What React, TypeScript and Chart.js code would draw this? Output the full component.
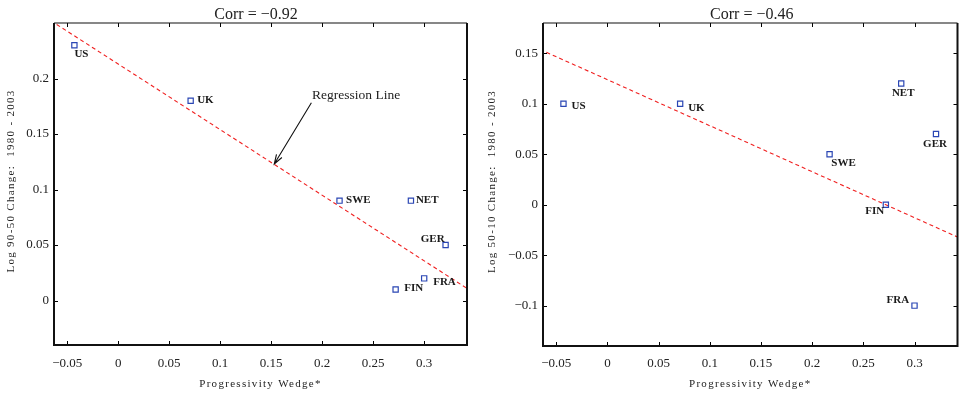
import React, { useEffect, useRef } from 'react';
import { Chart, registerables } from 'chart.js';

Chart.register(...registerables);

// ---------- data ----------
const COUNTRIES = ['US', 'UK', 'SWE', 'NET', 'GER', 'FRA', 'FIN'];
const WEDGE = [-0.043, 0.071, 0.217, 0.287, 0.321, 0.3, 0.272];
const CHANGE_90_50 = [0.23, 0.18, 0.09, 0.09, 0.05, 0.02, 0.01];
const CHANGE_50_10 = [0.1, 0.1, 0.05, 0.12, 0.07, -0.1, 0.0];

// regression lines, end points
const REG_X_90_50 = [-0.0604, 0.342];
const REG_Y_90_50 = [0.2487, 0.011];
const REG_X_50_10 = [-0.0597, 0.342];
const REG_Y_50_10 = [0.151, -0.032];

const X_TICKS = [-0.05, 0, 0.05, 0.1, 0.15, 0.2, 0.25, 0.3];
const X_TICK_LABELS = ['\u22120.05', '0', '0.05', '0.1', '0.15', '0.2', '0.25', '0.3'];
const Y_TICKS_90_50 = [0, 0.05, 0.1, 0.15, 0.2];
const Y_TICK_LABELS_90_50 = ['0', '0.05', '0.1', '0.15', '0.2'];
const Y_TICKS_50_10 = [-0.1, -0.05, 0, 0.05, 0.1, 0.15];
const Y_TICK_LABELS_50_10 = ['\u22120.1', '\u22120.05', '0', '0.05', '0.1', '0.15'];

const X_RANGE = [-0.063, 0.342];
const Y_RANGE_90_50 = [-0.04, 0.25];
const Y_RANGE_50_10 = [-0.14, 0.18];

// annotation (data coordinates)
const ANNOT_TEXT = 'Regression Line';
const ANNOT_TEXT_AT = [0.1901, 0.182];
const ANNOT_ARROW_FROM = [0.1894, 0.1782];
const ANNOT_ARROW_TO = [0.153, 0.123];

// label placement (pixel offsets from marker: dx, dy, align)
const LABEL_POS_90_50: [number, number, CanvasTextAlign][] = [
  [0, 9, 'left'],
  [6.5, -1, 'left'],
  [6.5, 0, 'left'],
  [5, 0, 'left'],
  [-1, -6, 'right'],
  [9, 3.6, 'left'],
  [8.7, -1, 'left'],
];
const LABEL_POS_50_10: [number, number, CanvasTextAlign][] = [
  [8, 2, 'left'],
  [8, 4, 'left'],
  [1.7, 8.7, 'left'],
  [2, 10, 'center'],
  [-1, 10, 'center'],
  [-5.3, -5.7, 'right'],
  [-1.7, 6.7, 'right'],
];

const SERIF = "'Liberation Serif', 'Times New Roman', serif";

interface PanelSpec {
  width: number;
  yData: number[];
  regX: number[];
  regY: number[];
  yRange: number[];
  yTicks: number[];
  yTickLabels: string[];
  labelPos: [number, number, CanvasTextAlign][];
  title: string;
  titleDx: number;
  yTitle: string;
  yTitleX: number;
  padTop: number;
  padRight: number;
  yAxisWidth: number;
  xAxisHeight: number;
  xLabelPad: number;
  annotate: boolean;
}

function makeChart(canvas: HTMLCanvasElement, s: PanelSpec) {
  const decor = {
    id: 'decor',
    afterDraw(chart: any) {
      const ctx: CanvasRenderingContext2D = chart.ctx;
      const { left, right, top, bottom } = chart.chartArea;
      const xs = chart.scales.x;
      const ys = chart.scales.y;
      ctx.save();
      // inward ticks
      ctx.strokeStyle = '#000';
      ctx.lineWidth = 1;
      ctx.beginPath();
      for (const v of X_TICKS) {
        const px = Math.round(xs.getPixelForValue(v)) + 0.5;
        ctx.moveTo(px, bottom);
        ctx.lineTo(px, bottom - 4);
        ctx.moveTo(px, top);
        ctx.lineTo(px, top + 4);
      }
      for (const v of s.yTicks) {
        const py = Math.round(ys.getPixelForValue(v)) + 0.5;
        ctx.moveTo(left, py);
        ctx.lineTo(left + 4, py);
        ctx.moveTo(right, py);
        ctx.lineTo(right - 4, py);
      }
      ctx.stroke();
      // box
      ctx.strokeStyle = '#111';
      ctx.lineWidth = 2;
      ctx.beginPath();
      ctx.moveTo(left, top);
      ctx.lineTo(left, bottom);
      ctx.lineTo(right, bottom);
      ctx.lineTo(right, top);
      ctx.stroke();
      ctx.lineWidth = 1.2;
      ctx.beginPath();
      ctx.moveTo(left, top);
      ctx.lineTo(right, top);
      ctx.stroke();

      // point labels
      ctx.fillStyle = '#1a1a1a';
      ctx.font = `bold 11px ${SERIF}`;
      ctx.textBaseline = 'middle';
      for (let i = 0; i < COUNTRIES.length; i++) {
        const [dx, dy, align] = s.labelPos[i];
        ctx.textAlign = align;
        ctx.fillText(
          COUNTRIES[i],
          xs.getPixelForValue(WEDGE[i]) + dx,
          ys.getPixelForValue(s.yData[i]) + dy
        );
      }

      // title
      ctx.fillStyle = '#222';
      ctx.font = `16px ${SERIF}`;
      ctx.textAlign = 'center';
      ctx.textBaseline = 'alphabetic';
      ctx.fillText(s.title, (left + right) / 2 + s.titleDx, 18.5);

      // axis titles
      ctx.font = `11px ${SERIF}`;
      (ctx as any).letterSpacing = '1.3px';
      ctx.fillText('Progressivity Wedge*', (left + right) / 2, 387);
      ctx.save();
      ctx.translate(s.yTitleX, (top + bottom) / 2 - 3);
      ctx.rotate(-Math.PI / 2);
      ctx.fillText(s.yTitle, 0, 0);
      ctx.restore();
      (ctx as any).letterSpacing = '0px';

      if (s.annotate) {
        ctx.font = `13.5px ${SERIF}`;
        ctx.textAlign = 'left';
        ctx.fillStyle = '#222';
        ctx.fillText(
          ANNOT_TEXT,
          xs.getPixelForValue(ANNOT_TEXT_AT[0]),
          ys.getPixelForValue(ANNOT_TEXT_AT[1])
        );
        const x0 = xs.getPixelForValue(ANNOT_ARROW_FROM[0]);
        const y0 = ys.getPixelForValue(ANNOT_ARROW_FROM[1]);
        const x1 = xs.getPixelForValue(ANNOT_ARROW_TO[0]);
        const y1 = ys.getPixelForValue(ANNOT_ARROW_TO[1]);
        ctx.strokeStyle = '#111';
        ctx.lineWidth = 1.1;
        ctx.beginPath();
        ctx.moveTo(x0, y0);
        ctx.lineTo(x1, y1);
        const ang = Math.atan2(y1 - y0, x1 - x0);
        const hl = 10;
        const ha = 0.32;
        ctx.moveTo(x1 - hl * Math.cos(ang - ha), y1 - hl * Math.sin(ang - ha));
        ctx.lineTo(x1, y1);
        ctx.lineTo(x1 - hl * Math.cos(ang + ha), y1 - hl * Math.sin(ang + ha));
        ctx.stroke();
      }
      ctx.restore();
    },
  };

  return new Chart(canvas, {
    type: 'scatter',
    data: {
      datasets: [
        {
          data: WEDGE.map((x, i) => ({ x, y: s.yData[i] })),
          pointStyle: 'rect',
          pointRadius: 3.7,
          pointBorderWidth: 1.2,
          pointBorderColor: '#2a46b4',
          pointBackgroundColor: 'rgba(255,255,255,0)',
          showLine: false,
        } as any,
        {
          data: s.regX.map((x, i) => ({ x, y: s.regY[i] })),
          showLine: true,
          pointRadius: 0,
          borderColor: '#f02020',
          borderWidth: 1.1,
          borderDash: [4, 3],
        } as any,
      ],
    },
    options: {
      animation: false,
      responsive: false,
      maintainAspectRatio: false,
      devicePixelRatio: 1,
      events: [],
      layout: {
        autoPadding: false,
        padding: { top: s.padTop, right: s.padRight, left: 0, bottom: 0 },
      },
      plugins: { legend: { display: false }, tooltip: { enabled: false }, title: { display: false } },
      scales: {
        x: {
          type: 'linear',
          min: X_RANGE[0],
          max: X_RANGE[1],
          grid: { display: false, drawTicks: false },
          border: { display: false },
          afterBuildTicks: (scale: any) => {
            scale.ticks = X_TICKS.map((v) => ({ value: v }));
          },
          afterFit: (scale: any) => {
            scale.height = s.xAxisHeight;
          },
          ticks: {
            autoSkip: false,
            maxRotation: 0,
            minRotation: 0,
            padding: s.xLabelPad,
            color: '#222',
            font: { family: SERIF, size: 13 },
            callback: (_v: any, i: number) => X_TICK_LABELS[i],
          },
        },
        y: {
          type: 'linear',
          min: s.yRange[0],
          max: s.yRange[1],
          grid: { display: false, drawTicks: false },
          border: { display: false },
          afterBuildTicks: (scale: any) => {
            scale.ticks = s.yTicks.map((v) => ({ value: v }));
          },
          afterFit: (scale: any) => {
            scale.width = s.yAxisWidth;
          },
          ticks: {
            autoSkip: false,
            padding: 5,
            color: '#222',
            font: { family: SERIF, size: 13 },
            callback: (_v: any, i: number) => s.yTickLabels[i],
          },
        },
      },
    },
    plugins: [decor],
  } as any);
}

const LEFT: PanelSpec = {
  width: 480,
  yData: CHANGE_90_50,
  regX: REG_X_90_50,
  regY: REG_Y_90_50,
  yRange: Y_RANGE_90_50,
  yTicks: Y_TICKS_90_50,
  yTickLabels: Y_TICK_LABELS_90_50,
  labelPos: LABEL_POS_90_50,
  title: 'Corr = \u22120.92',
  titleDx: -4.5,
  yTitle: 'Log 90-50 Change:  1980 - 2003',
  yTitleX: 13.5,
  padTop: 23,
  padRight: 13,
  yAxisWidth: 54,
  xAxisHeight: 51,
  xLabelPad: 11,
  annotate: true,
};

const RIGHT: PanelSpec = {
  width: 479,
  yData: CHANGE_50_10,
  regX: REG_X_50_10,
  regY: REG_Y_50_10,
  yRange: Y_RANGE_50_10,
  yTicks: Y_TICKS_50_10,
  yTickLabels: Y_TICK_LABELS_50_10,
  labelPos: LABEL_POS_50_10,
  title: 'Corr = \u22120.46',
  titleDx: 1.5,
  yTitle: 'Log 50-10 Change:  1980 - 2003',
  yTitleX: 14.5,
  padTop: 23,
  padRight: 1.5,
  yAxisWidth: 63,
  xAxisHeight: 50,
  xLabelPad: 10,
  annotate: false,
};

function Panel({ spec, left }: { spec: PanelSpec; left: number }) {
  const ref = useRef<HTMLCanvasElement | null>(null);
  useEffect(() => {
    if (!ref.current) return;
    const chart = makeChart(ref.current, spec);
    return () => chart.destroy();
  }, [spec]);
  return (
    <canvas
      ref={ref}
      width={spec.width}
      height={396}
      style={{ position: 'absolute', left, top: 0, width: spec.width, height: 396 }}
    />
  );
}

export default function App() {
  return (
    <div
      style={{
        position: 'absolute',
        left: 0,
        top: 0,
        width: 959,
        height: 396,
        background: '#fff',
        overflow: 'hidden',
      }}
    >
      <Panel spec={LEFT} left={0} />
      <Panel spec={RIGHT} left={480} />
    </div>
  );
}
